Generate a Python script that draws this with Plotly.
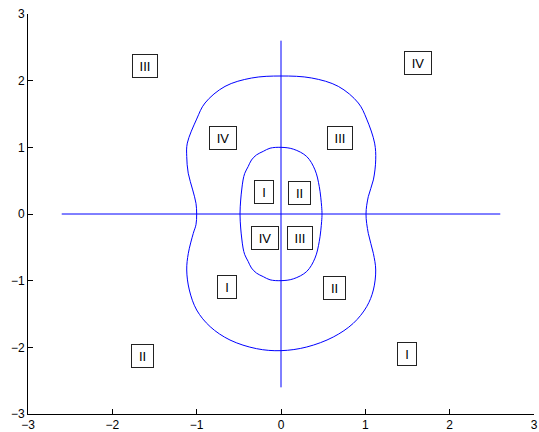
import plotly.graph_objects as go

# Outer closed curve (traced counter-clockwise from top)
outer_x = [0.0, -0.348, -0.664, -0.901, -1.0, -1.111, -1.118, -1.10, -1.047, -1.008, -1.0,
           -1.008, -1.04, -1.099, -1.118, -1.087, -1.0, -0.84, -0.605, -0.29, 0.0,
           0.305, 0.62, 0.857, 1.016, 1.095, 1.123, 1.095, 1.035, 1.008,
           1.035, 1.095, 1.123, 1.11, 1.016, 0.917, 0.68, 0.364, 0.0]
outer_y = [2.07, 2.04, 1.914, 1.665, 1.424, 1.063, 0.862, 0.612, 0.361, 0.16, 0.0,
           -0.16, -0.29, -0.59, -0.84, -1.14, -1.44, -1.69, -1.89, -2.02, -2.05,
           -1.995, -1.845, -1.64, -1.39, -1.14, -0.84, -0.59, -0.29, 0.0,
           0.26, 0.511, 0.812, 1.063, 1.424, 1.665, 1.914, 2.04, 2.07]

# Inner closed curve
inner_x = [0.0, -0.13, -0.21, -0.29, -0.35, -0.39, -0.43, -0.45, -0.466, -0.478, -0.486,
           -0.478, -0.466, -0.45, -0.43, -0.39, -0.35, -0.29, -0.21, -0.13, 0.0,
           0.146, 0.305, 0.403, 0.454, 0.482, 0.486,
           0.482, 0.454, 0.403, 0.305, 0.146, 0.0]
inner_y = [1.0, 0.987, 0.94, 0.887, 0.81, 0.71, 0.61, 0.51, 0.36, 0.21, 0.0,
           -0.21, -0.36, -0.51, -0.61, -0.71, -0.81, -0.887, -0.94, -0.987, -1.0,
           -0.973, -0.862, -0.662, -0.41, -0.11, 0.0,
           0.11, 0.41, 0.662, 0.862, 0.973, 1.0]

# Axis cross lines
hline_x = [-2.6, 0.0, 2.6]
hline_y = [0.0, 0.0, 0.0]
vline_x = [0.0, 0.0, 0.0]
vline_y = [-2.6, 0.0, 2.6]

# Region labels
label_text = ["III", "IV", "IV", "III", "I", "II", "IV", "III", "I", "II", "II", "I"]
label_x = [-1.607, 1.625, -0.684, 0.70, -0.204, 0.225, -0.193, 0.231, -0.638, 0.64, -1.648, 1.49]
label_y = [2.218, 2.259, 1.138, 1.147, 0.335, 0.316, -0.353, -0.361, -1.098, -1.117, -2.123, -2.093]

ticks = [-3, -2, -1, 0, 1, 2, 3]

blue = "#0000ff"
fig = go.Figure()
for xs, ys, shape in [(outer_x, outer_y, "spline"), (inner_x, inner_y, "spline"),
                      (hline_x, hline_y, "linear"), (vline_x, vline_y, "linear")]:
    fig.add_trace(go.Scatter(x=xs, y=ys, mode="lines",
                             line=dict(color=blue, width=1, shape=shape),
                             showlegend=False, hoverinfo="skip"))

box_w = {"I": 16, "II": 19, "III": 22, "IV": 24}
for t, x, y in zip(label_text, label_x, label_y):
    fig.add_annotation(x=x, y=y, text=t, showarrow=False, xref="x", yref="y",
                       font=dict(family="Liberation Sans, Arial", size=13, color="black"),
                       bgcolor="white", bordercolor="#222", borderwidth=1, borderpad=1,
                       width=box_w[t], height=20, align="center", valign="middle")

axis_common = dict(range=[-3, 3], tickvals=ticks, ticks="inside", ticklen=5,
                   tickcolor="black", showline=True, linecolor="black", linewidth=1,
                   showgrid=False, zeroline=False, mirror=False, automargin=False,
                   ticklabeloverflow="allow",
                   tickfont=dict(family="Liberation Sans, Arial", size=12, color="black"))
fig.update_xaxes(**axis_common)
fig.update_yaxes(**axis_common)
fig.update_layout(width=539, height=432, margin=dict(l=28, r=5, t=14, b=18),
                  plot_bgcolor="white", paper_bgcolor="white")
fig.write_html("out.html", config={"displayModeBar": False},
               post_script="document.body.style.margin='0';document.body.style.overflow='hidden';")
